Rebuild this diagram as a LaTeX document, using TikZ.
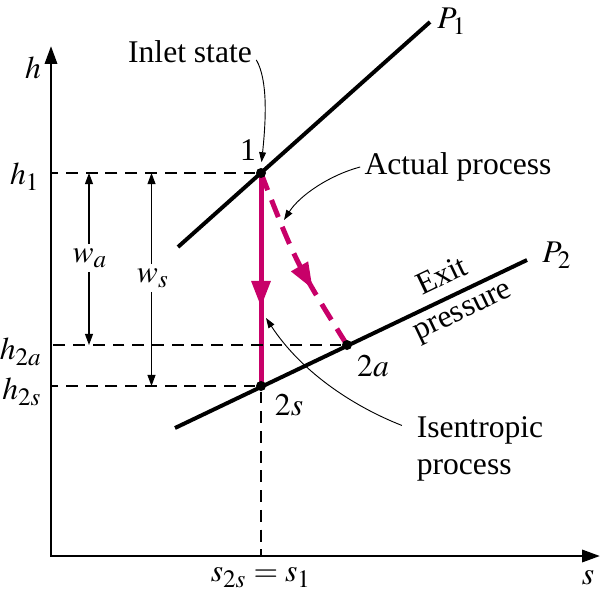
\documentclass[tikz,border=0pt]{standalone}
\usepackage{mathptmx}
\usepackage{fontspec}
\setmainfont{Liberation Serif}
\usetikzlibrary{
	arrows.meta,
	calc,
	positioning,
	decorations.markings,
}
\DeclareMathSizes{12}{12}{9.5}{8}
\definecolor{procmag}{RGB}{200,0,105}
\tikzset{
	label text/.style={inner sep=1.5pt},
	state dot/.style={circle,fill=black,inner sep=0mm,minimum size=3.8pt},
	axis line/.style={line width=1.1pt,
		{Triangle[length=6.8pt,width=4.6pt]}-{Triangle[length=6.8pt,width=4.6pt]}},
	isobar/.style={line width=1.5pt},
	guide line/.style={dash pattern=on 4.5pt off 3pt,line width=0.6pt},
	work arrow/.style={line width=0.45pt,-{Triangle[length=4.2pt,width=3pt]}},
	leader/.style={line width=0.35pt,-{Triangle[length=3.8pt,width=2.6pt]}},
	process/.style={procmag,line width=1.9pt},
	mid arrow/.style={postaction={decorate},
		decoration={markings,mark=at position #1 with {\arrow{Triangle[length=10pt,width=7pt]}}}},
}

\begin{document}
\begin{tikzpicture}[x=0.38pt,y=-0.38pt,font=\fontsize{12}{14}\selectfont,
	every node/.style={label text}]
\useasboundingbox (0,0) rectangle (600,600);

% axes
\coordinate (O) at (51,556);
\coordinate (htip) at (51,46);
\coordinate (stip) at (600,556);
\draw[axis line] (htip) -- (O) -- (stip);
\node (hlbl) at (33,68) {$h$};
\node (slbl) at (588,578) {$s$};

% states
\coordinate (st1) at (261,173);
\coordinate (st2s) at (261,386);
\coordinate (st2a) at (347,345);

% isobars
\coordinate (P1a) at (178,247);
\coordinate (P1b) at (430,22);
\coordinate (P2a) at (175,428);
\coordinate (P2b) at (527,260);
\draw[isobar] (P1a) -- (P1b);
\draw[isobar] (P2a) -- (P2b)
	node[pos=0.785,sloped,above=2.5pt] (exitlbl) {Exit}
	node[pos=0.795,sloped,below=2pt] (preslbl) {pressure};
\node (P1lbl) at (452,21) {$P_1$};
\node (P2lbl) at (557,255) {$P_2$};

% processes
\draw[process,mid arrow=0.63] (st1) -- (st2s);
\draw[process,dash pattern=on 7pt off 4pt,mid arrow=0.66]
	(st1) .. controls (296,263) .. (st2a);

\foreach \s in {st1,st2s,st2a}{
	\node[state dot] (dot\s) at (\s) {};
}

% guide lines to the axes
\draw[guide line] (dotst1) -- (dotst1 -| O);
\draw[guide line] (dotst2a) -- (dotst2a -| O);
\draw[guide line] (dotst2s) -- (dotst2s -| O);
\draw[guide line] (dotst2s) -- (dotst2s |- O);

\node (h1lbl) at (25,177) {$h_1$};
\node (h2albl) at (21,352) {$h_{2a}$};
\node (h2slbl) at (22,392) {$h_{2s}$};
\node (sxlbl) at (261,578) {$s_{2s}=s_1$};

% work
\node (walbl) at (90,258) {$w_a$};
\node (wslbl) at (153,278) {$w_s$};
\coordinate (wax) at (89,0);
\coordinate (wsx) at (151.5,0);
\draw[work arrow] (wax |- walbl.north) -- (wax |- dotst1);
\draw[work arrow] (wax |- walbl.south) -- (wax |- dotst2a);
\draw[work arrow] (wsx |- wslbl.north) -- (wsx |- dotst1);
\draw[work arrow] (wsx |- wslbl.south) -- (wsx |- dotst2s);

% state labels
\node (one) at (248,150) {1};
\node (lbl2s) at (289,405) {$2s$};
\node (lbl2a) at (373,366) {$2a$};

% callouts
\node (inlet) at (190,52) {Inlet state};
\node (actual) at (458,167) {Actual process};
\node[align=left] (isen) at (480,449) {Isentropic\\process};
\coordinate (acttip) at (284,220);
\coordinate (isentip) at (266,318);
\draw[leader,shorten >=2pt] ([yshift=-3pt]inlet.east)
	.. controls (268,80) and (266,120) .. (dotst1.north);
\draw[leader] (actual.west) .. controls (330,175) and (300,195) .. (acttip);
\draw[leader] ([shift={(-4pt,-5pt)}]isen.north west)
	.. controls (350,405) and (300,370) .. (isentip);
\end{tikzpicture}
\end{document}
